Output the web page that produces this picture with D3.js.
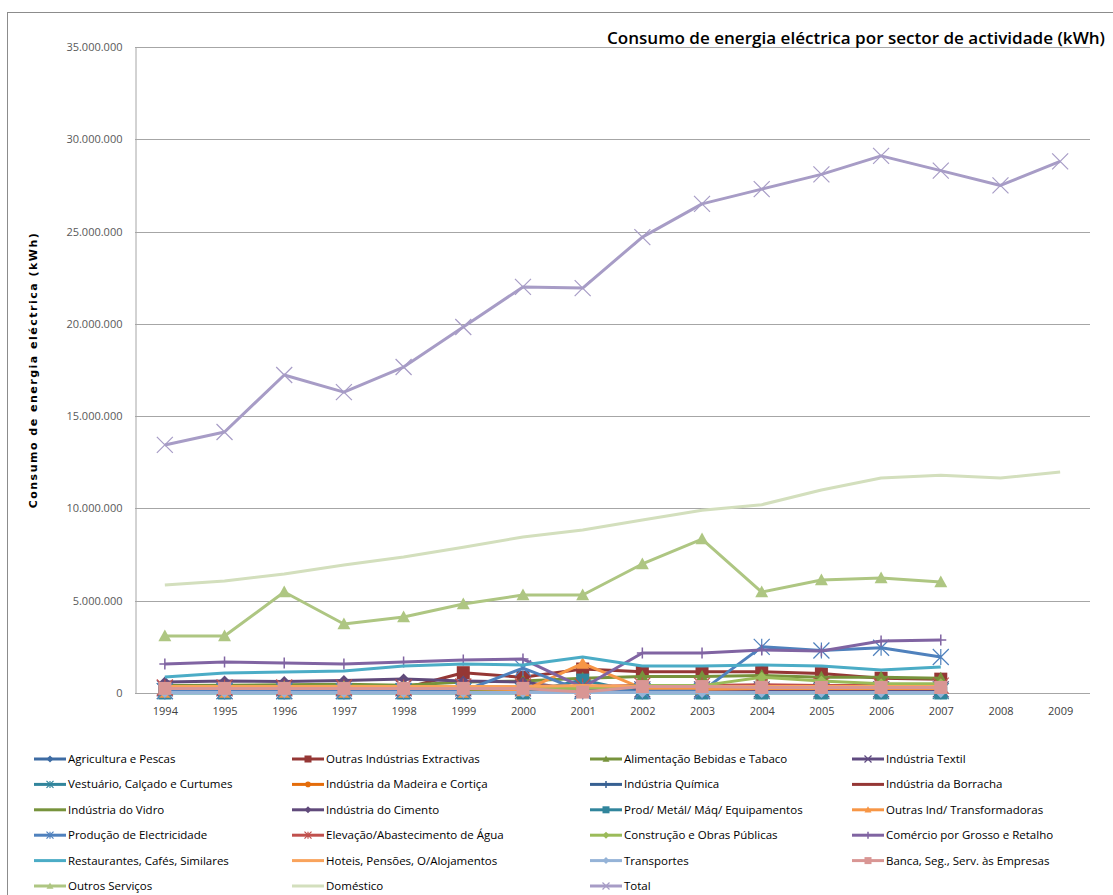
<!DOCTYPE html>
<html>
<head>
<meta charset="utf-8">
<script src="https://cdn.jsdelivr.net/npm/d3@7"></script>
<style>
  body { margin: 0; background: #fff; }
  svg { display: block; font-family: "Open Sans", sans-serif; }
</style>
</head>
<body>
<div id="chart"></div>
<script>
// Anos do eixo X
const years = [1994, 1995, 1996, 1997, 1998, 1999, 2000, 2001, 2002, 2003, 2004, 2005, 2006, 2007, 2008, 2009];

// Consumo por sector (kWh)
const agricultura = [90000, 95000, 100000, 100000, 105000, 110000, 110000, 100000, 120000, 120000, 125000, 125000, 120000, 120000];
const extractivas = [200000, 210000, 220000, 230000, 240000, 1100000, 850000, 1300000, 1150000, 1150000, 1150000, 1050000, 800000, 750000];
const alimentacao = [400000, 420000, 450000, 480000, 420000, 600000, 650000, 800000, 900000, 900000, 950000, 850000, 850000, 800000];
const textil = [250000, 250000, 250000, 250000, 250000, 250000, 250000, 200000, 200000, 200000, 200000, 200000, 200000, 200000];
const vestuario = [100000, 100000, 100000, 100000, 100000, 100000, 100000, 100000, 100000, 100000, 100000, 100000, 100000, 100000];
const madeira = [80000, 80000, 80000, 80000, 80000, 80000, 80000, 80000, 80000, 80000, 80000, 80000, 80000, 80000];
const quimica = [150000, 150000, 150000, 150000, 150000, 150000, 150000, 150000, 150000, 150000, 150000, 150000, 150000, 150000];
const borracha = [50000, 50000, 50000, 50000, 50000, 50000, 50000, 50000, 50000, 50000, 50000, 50000, 50000, 50000];
const vidro = [100000, 100000, 100000, 100000, 100000, 100000, 100000, 100000, 100000, 100000, 100000, 100000, 100000, 100000];
const cimento = [600000, 650000, 620000, 680000, 760000, 650000, 600000, 150000, 150000, 150000, 150000, 150000, 160000, 160000];
const prodMetal = [0, 0, 0, 0, 0, 0, 0, 700000, 0, 0, 0, 0, 0, 0];
const outrasTransf = [30000, 30000, 30000, 30000, 30000, 30000, 100000, 1600000, 250000, 200000, 250000, 250000, 250000, 250000];
const producaoElect = [100000, 100000, 100000, 100000, 100000, 100000, 1350000, 100000, 100000, 100000, 2500000, 2300000, 2450000, 1950000];
const elevacao = [300000, 300000, 300000, 300000, 300000, 350000, 350000, 350000, 400000, 400000, 450000, 400000, 400000, 400000];
const construcao = [300000, 320000, 350000, 370000, 350000, 300000, 250000, 250000, 400000, 400000, 850000, 650000, 500000, 500000];
const comercio = [1570000, 1680000, 1630000, 1570000, 1680000, 1790000, 1840000, 300000, 2170000, 2170000, 2330000, 2280000, 2820000, 2870000];
const restaurantes = [870000, 1080000, 1140000, 1190000, 1460000, 1570000, 1520000, 1950000, 1460000, 1460000, 1520000, 1460000, 1250000, 1410000];
const hoteis = [350000, 350000, 350000, 350000, 350000, 350000, 350000, 400000, 350000, 350000, 350000, 350000, 350000, 350000];
const transportes = [30000, 30000, 30000, 30000, 30000, 30000, 30000, 30000, 30000, 30000, 30000, 30000, 30000, 30000];
const banca = [250000, 250000, 250000, 250000, 250000, 250000, 250000, 50000, 350000, 350000, 300000, 300000, 300000, 300000];
const outrosServicos = [3090000, 3090000, 5470000, 3740000, 4120000, 4820000, 5310000, 5310000, 6990000, 8340000, 5470000, 6120000, 6230000, 6010000];
const domestico = [5850000, 6070000, 6450000, 6930000, 7370000, 7900000, 8450000, 8830000, 9370000, 9900000, 10200000, 11000000, 11650000, 11800000, 11650000, 11970000];
const total = [13440000, 14140000, 17230000, 16300000, 17660000, 19830000, 22000000, 21940000, 24700000, 26500000, 27300000, 28100000, 29100000, 28300000, 27500000, 28800000];

const yTicks = [0, 5000000, 10000000, 15000000, 20000000, 25000000, 30000000, 35000000];

// Tabela de séries (nome, valores, cor, marcador)
const series = [
    { name: "Agricultura e Pescas", values: agricultura, color: "#3d6ba3", marker: "diamond" },
    { name: "Outras Indústrias Extractivas", values: extractivas, color: "#953735", marker: "square" },
    { name: "Alimentação Bebidas e Tabaco", values: alimentacao, color: "#77933c", marker: "triangle" },
    { name: "Indústria Textil", values: textil, color: "#5f4a80", marker: "x" },
    { name: "Vestuário, Calçado e Curtumes", values: vestuario, color: "#31859c", marker: "star" },
    { name: "Indústria da Madeira e Cortiça", values: madeira, color: "#e46c0a", marker: "circle" },
    { name: "Indústria Química", values: quimica, color: "#376092", marker: "plus" },
    { name: "Indústria da Borracha", values: borracha, color: "#953735", marker: null },
    { name: "Indústria do Vidro", values: vidro, color: "#77933c", marker: null },
    { name: "Indústria do Cimento", values: cimento, color: "#604a7b", marker: "diamond" },
    { name: "Prod/ Metál/ Máq/ Equipamentos", values: prodMetal, color: "#31859c", marker: "square" },
    { name: "Outras Ind/ Transformadoras", values: outrasTransf, color: "#f79646", marker: "triangle" },
    { name: "Produção de Electricidade", values: producaoElect, color: "#4f81bd", marker: "star" },
    { name: "Elevação/Abastecimento de Água", values: elevacao, color: "#c0504d", marker: "star" },
    { name: "Construção e Obras Públicas", values: construcao, color: "#9bbb59", marker: "diamond" },
    { name: "Comércio por Grosso e Retalho", values: comercio, color: "#8064a2", marker: "plus" },
    { name: "Restaurantes, Cafés, Similares", values: restaurantes, color: "#4bacc6", marker: null },
    { name: "Hoteis, Pensões, O/Alojamentos", values: hoteis, color: "#f9a35c", marker: null },
    { name: "Transportes", values: transportes, color: "#95b3d7", marker: "diamond" },
    { name: "Banca, Seg., Serv. às Empresas", values: banca, color: "#d99694", marker: "square" },
    { name: "Outros Serviços", values: outrosServicos, color: "#aec682", marker: "triangle" },
    { name: "Doméstico", values: domestico, color: "#d3dfbd", marker: null },
    { name: "Total", values: total, color: "#a79cc6", marker: "x" }
];

const width = 1113;
const height = 895;
const margin = { top: 47, right: 23, bottom: 202, left: 135 };

const svg = d3.select("#chart").append("svg")
    .attr("width", width)
    .attr("height", height);

// Moldura exterior
svg.append("rect")
    .attr("x", 7.5).attr("y", 12.5)
    .attr("width", width).attr("height", height)
    .attr("fill", "none")
    .attr("stroke", "#8c8c8c");

const x = d3.scalePoint()
    .domain(years)
    .range([margin.left, width - margin.right])
    .padding(0.5);

const y = d3.scaleLinear()
    .domain([0, 35000000])
    .range([height - margin.bottom, margin.top]);

const fmt = d3.format(",d");
const ptFormat = v => fmt(v).replace(/,/g, ".");

// Grelha horizontal
svg.append("g")
    .selectAll("line")
    .data(yTicks)
    .join("line")
    .attr("x1", margin.left)
    .attr("x2", width - margin.right)
    .attr("y1", d => Math.round(y(d)) + 0.5)
    .attr("y2", d => Math.round(y(d)) + 0.5)
    .attr("stroke", "#a6a6a6");

// Eixo Y
const yAxis = svg.append("g")
    .attr("transform", `translate(${margin.left + 0.5},0)`)
    .call(d3.axisLeft(y).tickValues(yTicks).tickFormat(ptFormat).tickSize(0).tickPadding(13));
yAxis.select(".domain").attr("stroke", "#a6a6a6");
yAxis.selectAll("text").attr("font-size", 11).attr("fill", "#595959").attr("font-family", "Open Sans");

// Eixo X
const xAxis = svg.append("g")
    .attr("transform", `translate(0,${Math.round(y(0)) + 0.5})`)
    .call(d3.axisBottom(x).tickSize(0).tickPadding(14));
xAxis.select(".domain").remove();
xAxis.selectAll("text").attr("font-size", 11).attr("fill", "#404040").attr("font-family", "Open Sans");

// Título do eixo Y
svg.append("text")
    .attr("transform", `translate(37,${(margin.top + height - margin.bottom) / 2}) rotate(-90)`)
    .attr("text-anchor", "middle")
    .attr("font-size", 11)
    .attr("font-weight", "bold")
    .attr("letter-spacing", 1.5)
    .attr("font-family", "DejaVu Sans")
    .attr("fill", "#000")
    .text("Consumo de energia eléctrica (kWh)");

// Título do gráfico
svg.append("text")
    .attr("x", 1105)
    .attr("y", 44)
    .attr("text-anchor", "end")
    .attr("font-size", 16)
    .attr("font-weight", 600)
    .attr("textLength", 498)
    .attr("lengthAdjust", "spacingAndGlyphs")
    .attr("fill", "#000")
    .text("Consumo de energia eléctrica por sector de actividade (kWh)");

// Desenha um marcador
function drawMarker(g, type, color, size) {
    const s = size / 2;
    if (type === "diamond") {
        g.append("path").attr("d", `M0,${-s}L${s},0L0,${s}L${-s},0Z`).attr("fill", color);
    } else if (type === "square") {
        g.append("rect").attr("x", -s).attr("y", -s).attr("width", size).attr("height", size).attr("fill", color);
    } else if (type === "triangle") {
        g.append("path").attr("d", `M0,${-s}L${s},${s * 0.8}L${-s},${s * 0.8}Z`).attr("fill", color);
    } else if (type === "circle") {
        g.append("circle").attr("r", s * 0.8).attr("fill", color);
    } else if (type === "x") {
        g.append("path").attr("d", `M${-s},${-s}L${s},${s}M${-s},${s}L${s},${-s}`).attr("stroke", color).attr("stroke-width", 1.2);
    } else if (type === "star") {
        g.append("path").attr("d", `M${-s},${-s}L${s},${s}M${-s},${s}L${s},${-s}M0,${-s}L0,${s}`).attr("stroke", color).attr("stroke-width", 1.2);
    } else if (type === "plus") {
        g.append("path").attr("d", `M0,${-s}L0,${s}M${-s},0L${s},0`).attr("stroke", color).attr("stroke-width", 1.5);
    }
}

const line = d3.line()
    .x((d, i) => x(years[i]))
    .y(d => y(d));

// Linhas e marcadores
series.forEach(s => {
    const g = svg.append("g");
    g.append("path")
        .datum(s.values)
        .attr("d", line)
        .attr("fill", "none")
        .attr("stroke", s.color)
        .attr("stroke-width", 3)
        .attr("stroke-linejoin", "round");
    if (s.marker) {
        const big = s.marker === "square" || s.marker === "triangle" ? 13 : 11;
        s.values.forEach((v, i) => {
            const m = g.append("g").attr("transform", `translate(${x(years[i])},${y(v)})`);
            drawMarker(m, s.marker, s.color, s.marker === "x" || s.marker === "star" ? 16 : big);
        });
    }
});

// Legenda em 4 colunas
const legendCols = [34, 292, 590, 852];
const legendRowY = 759;
const legendRowH = 25.4;
const legend = svg.append("g")
    .selectAll("g")
    .data(series)
    .join("g")
    .attr("transform", (d, i) => `translate(${legendCols[i % 4]},${legendRowY + Math.floor(i / 4) * legendRowH})`);

legend.append("line")
    .attr("x1", 0).attr("x2", 32)
    .attr("stroke", d => d.color)
    .attr("stroke-width", 3);
legend.each(function (d) {
    if (d.marker) {
        const m = d3.select(this).append("g").attr("transform", "translate(16,0)");
        drawMarker(m, d.marker, d.color, 7);
    }
});
legend.append("text")
    .attr("x", 34)
    .attr("dy", "0.35em")
    .attr("font-size", 11.5)
    .attr("fill", "#000")
    .text(d => d.name);
</script>
</body>
</html>
